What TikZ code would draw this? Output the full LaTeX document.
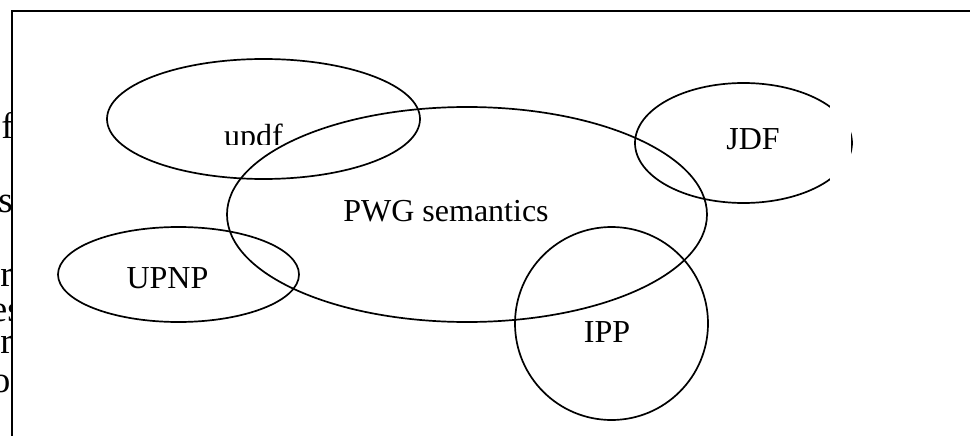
\documentclass[tikz,border=0pt]{standalone}
\usepackage{fontspec}
\setmainfont{Liberation Serif}
\usepackage{tikz}

\tikzset{
  blob/.style={line width=1.7pt},
  lbl/.style={inner sep=0pt, anchor=base, font=\fontsize{32}{38}\selectfont},
  cutlbl/.style={inner sep=0pt, anchor=base east, font=\fontsize{37}{42}\selectfont}
}

\begin{document}
\begin{tikzpicture}[x=1pt,y=-1pt]
          \useasboundingbox (0,0) rectangle (970,436);
          \fill[white] (0,0) rectangle (970,436);

          % cut-off text to the left of the frame
          \begin{scope}
            \clip (0,0) rectangle (11,436);
            \node[cutlbl] (cuta) at (14,138) {f};
            \node[cutlbl] (cutb) at (13,212) {s};
            \node[cutlbl] (cutc) at (13,286) {or};
            \node[cutlbl] (cutd) at (22,321) {es};
            \node[cutlbl] (cute) at (13,353) {cr};
            \node[cutlbl] (cutf) at (10.5,392) {o};
          \end{scope}

          % frame
          \draw[blob] (12,436) -- (12,11) -- (970,11);

          % the overlapping sets
          \draw[blob] (263.5,119) ellipse [x radius=156.5, y radius=60];
          \draw[blob] (467,214.5) ellipse [x radius=240, y radius=107.5];
          \draw[blob] (178.5,274.5) ellipse [x radius=120.5, y radius=47.5];
          \draw[blob] (611.5,323.5) circle (96.5);
          \draw[blob] (743.5,143) ellipse [x radius=108.5, y radius=60];
          \fill[white] (830,70) rectangle (851,215);

          % labels
          \begin{scope}
            \clip (0,0) rectangle (970,144);
            \node[lbl] (updf) at (253.5,146.5) {updf};
          \end{scope}
          \node[lbl] (pwg) at (446,221) {PWG semantics};
          \node[lbl] (upnp) at (167.5,288) {UPNP};
          \node[lbl] (ipp) at (607,342) {IPP};
          \node[lbl] (jdf) at (753,149) {JDF};
        \end{tikzpicture}
\end{document}
